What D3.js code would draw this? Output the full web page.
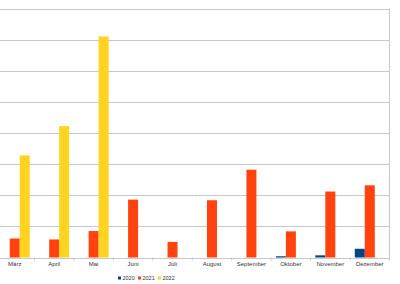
<!DOCTYPE html>
<html lang="de">
<head>
<meta charset="utf-8">
<script src="https://d3js.org/d3.v7.min.js"></script>
<style type="text/css">
  body { margin: 0; background: #fff; }
  text { font-family: "Liberation Sans", sans-serif; fill: #333; }
</style>
</head>
<body>
<script type="text/javascript">

  // chart data
  var months = ["März", "April", "Mai", "Juni", "Juli", "August", "September", "Oktober", "November", "Dezember"];
  var years = ["2020", "2021", "2022"];
  var values2020 = [0, 0, 0, 0, 0, 0, 0, 0.2, 0.35, 1.4];
  var values2021 = [3.05, 2.9, 4.25, 9.3, 2.5, 9.2, 14.1, 4.2, 10.6, 11.6];
  var values2022 = [16.4, 21.1, 35.5, 0, 0, 0, 0, 0, 0, 0];
  var yTicks = [0, 5, 10, 15, 20, 25, 30, 35, 40];

  var colors = { "2020": "#004586", "2021": "#ff420e", "2022": "#ffd320" };

  var width = 400;
  var height = 284;

  var svg = d3.select("body")
    .append("svg")
    .attr("width", width)
    .attr("height", height);

  // scales
  var x = d3.scaleBand()
    .domain(months)
    .range([-5, 389.5]);

  var bw = x.bandwidth();
  var x1 = d3.scaleBand()
    .domain(years)
    .range([bw * 0.12, bw * 0.88]);

  var y = d3.scaleLinear()
    .domain([0, 40])
    .range([257.5, 8.5]);

  // gridlines
  svg.append("g")
    .selectAll("line")
    .data(yTicks)
    .enter()
    .append("line")
    .attr("x1", -5)
    .attr("x2", 389.5)
    .attr("y1", function(d) { return Math.round(y(d)) + 0.5; })
    .attr("y2", function(d) { return Math.round(y(d)) + 0.5; })
    .style("stroke", "#c8c8c8")
    .style("stroke-width", 1);

  // right frame line
  svg.append("line")
    .attr("x1", 389.5).attr("x2", 389.5)
    .attr("y1", y(40)).attr("y2", y(0) + 3)
    .style("stroke", "#c8c8c8");

  // build rows per month
  var rows = months.map(function(m, i) {
    return { month: m, vals: [
      { year: "2020", v: values2020[i] },
      { year: "2021", v: values2021[i] },
      { year: "2022", v: values2022[i] }
    ]};
  });

  var groups = svg.append("g")
    .selectAll("g")
    .data(rows)
    .enter()
    .append("g")
    .attr("transform", function(d) { return "translate(" + x(d.month) + ",0)"; });

  groups.selectAll("rect")
    .data(function(d) { return d.vals.filter(function(e) { return e.v > 0; }); })
    .enter()
    .append("rect")
    .attr("x", function(d) { return x1(d.year); })
    .attr("width", x1.bandwidth())
    .attr("y", function(d) { return y(d.v); })
    .attr("height", function(d) { return y(0) - y(d.v); })
    .style("fill", function(d) { return colors[d.year]; });

  // x axis ticks between categories
  svg.append("g")
    .selectAll("line")
    .data(months)
    .enter()
    .append("line")
    .attr("x1", function(d) { return x(d) + bw; })
    .attr("x2", function(d) { return x(d) + bw; })
    .attr("y1", y(0))
    .attr("y2", y(0) + 3)
    .style("stroke", "#c8c8c8");

  // month labels
  svg.append("g")
    .selectAll("text")
    .data(months)
    .enter()
    .append("text")
    .attr("x", function(d) { return x(d) + bw / 2; })
    .attr("y", 266)
    .attr("text-anchor", "middle")
    .style("font-size", "6px")
    .text(function(d) { return d; });

  // legend
  var legend = svg.append("g")
    .attr("transform", "translate(118,278)")
    .selectAll("g")
    .data(years)
    .enter()
    .append("g")
    .attr("transform", function(d, i) { return "translate(" + i * 20 + ",0)"; });

  legend.append("rect")
    .attr("x", 0)
    .attr("y", -1.5)
    .attr("width", 3)
    .attr("height", 3)
    .style("fill", function(d) { return colors[d]; });

  legend.append("text")
    .attr("x", 4.5)
    .attr("y", 0)
    .attr("dy", ".35em")
    .style("font-size", "5.5px")
    .text(function(d) { return d; });

</script>
</body>
</html>
